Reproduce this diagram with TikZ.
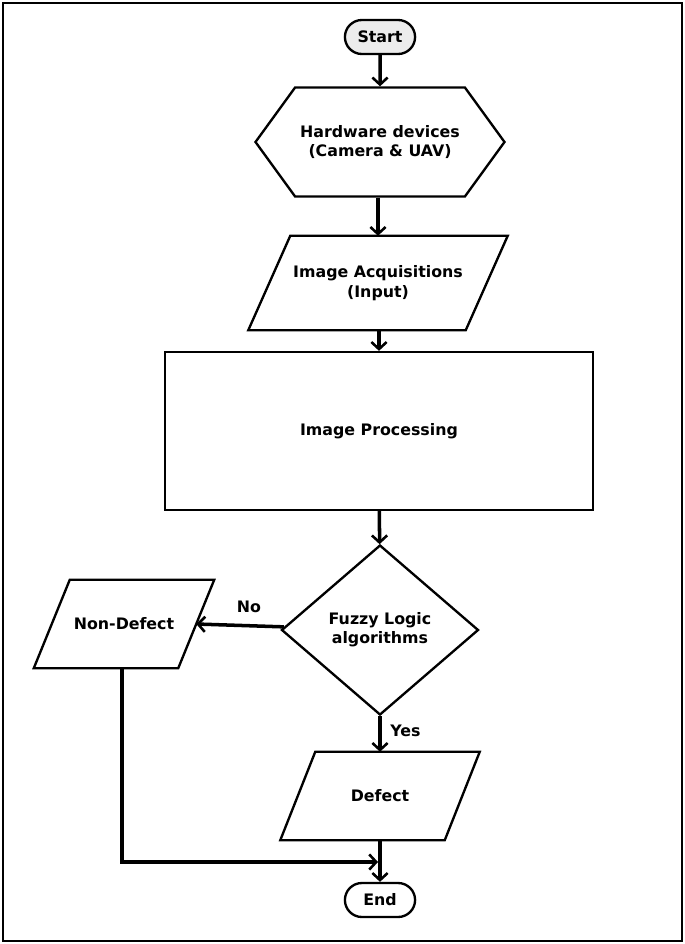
\documentclass[tikz,border=0pt]{standalone}
\usepackage{fontspec}
\setmainfont{DejaVu Sans}
\usetikzlibrary{shapes.geometric,shapes.symbols,shapes.misc,arrows.meta}
\begin{document}
\begin{tikzpicture}[x=0.03cm,y=-0.03cm,
  txt/.style={font=\fontsize{13.5}{16.5}\selectfont\bfseries},
  box/.style={draw=black,line width=2pt,align=center,txt},
  term/.style={box,rounded rectangle,minimum width=78*0.03cm,minimum height=34*0.03cm},
  para/.style={txt,align=center,rectangle,inner sep=0pt},
  link/.style={draw=black,line width=3pt,-{Straight Barb[length=6pt,width=13pt,line width=2.2pt]}}]
  \useasboundingbox (0,0) rectangle (685,944);
  \draw[line width=1pt] (3,3) rectangle (682,941);
  \begin{scope}
  \node[term,fill=gray!15] (start) at (380,37) {Start};
  \node[box,signal,signal to=east and west,signal pointer angle=108,minimum width=249*0.03cm,minimum height=109*0.03cm] (hw) at (380,142) {Hardware devices\\(Camera \& UAV)};
  \node[para,minimum width=217*0.03cm,minimum height=94*0.03cm] (acq) at (378,283) {Image Acquisitions\\(Input)};
  \node[box,rectangle,minimum width=428*0.03cm,minimum height=158*0.03cm] (proc) at (379,431) {Image Processing};
  \node[box,diamond,aspect=1.16,minimum width=197*0.03cm,minimum height=170*0.03cm,inner sep=0pt] (fuzzy) at (380,630) {Fuzzy Logic\\algorithms};
  \node[para,minimum width=144*0.03cm,minimum height=88*0.03cm] (nondef) at (124,624) {Non-Defect};
  \node[para,minimum width=164*0.03cm,minimum height=88*0.03cm] (def) at (380,796) {Defect};
  \node[term] (end) at (380,900) {End};
  \end{scope}
  % slanted sides of the input/output boxes
  \foreach \n/\s in {acq/21,nondef/18,def/17.5}
    \draw[line width=2pt] ([xshift=\s*0.03cm]\n.north west) -- ([xshift=\s*0.03cm]\n.north east)
      -- ([xshift=-\s*0.03cm]\n.south east) -- ([xshift=-\s*0.03cm]\n.south west) -- cycle;
  \coordinate (turn) at (122,862);
  \coordinate (join) at (378,862);
  \path[link] (start) -- (hw);
  \path[link] (hw.south -| acq.north) -- (acq);
  \path[link] (acq.south -| proc.north) -- (proc);
  \path[link] (proc) -- (fuzzy);
  \path[link] (fuzzy) -- node[above=6pt,pos=0.4,txt] {No} (nondef.east);
  \path[link] (fuzzy.south) -- node[right=4pt,pos=0.4,txt] {Yes} (def.north -| fuzzy.south);
  \path[link] (def.south -| end.north) -- (end);
  \path[link] (nondef.south -| turn) -- (turn) -- (join);
\end{tikzpicture}
\end{document}
